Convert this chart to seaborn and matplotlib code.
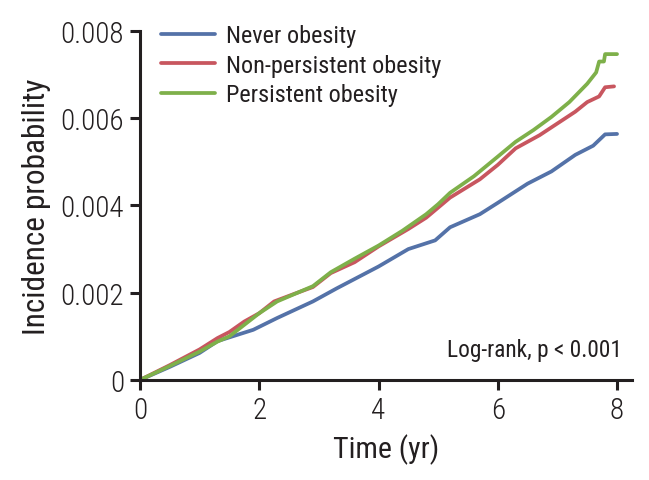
import matplotlib
matplotlib.use("Agg")
import matplotlib.pyplot as plt
from matplotlib import font_manager
import seaborn as sns
import pandas as pd

# ---- data ----
t_never = [0, 0.5, 1.0, 1.3, 1.9, 2.3, 2.9, 3.3, 4.0, 4.5, 4.95, 5.2, 5.7, 6.0, 6.5, 6.9, 7.3, 7.6, 7.8, 8.0]
p_never = [0, 0.00030, 0.00062, 0.00089, 0.00115, 0.00142, 0.00180, 0.00210, 0.00260, 0.00300, 0.00320,
           0.00350, 0.00380, 0.00406, 0.00450, 0.00478, 0.00516, 0.00537, 0.00563, 0.00564]

t_nonpers = [0, 0.5, 1.0, 1.3, 1.5, 1.75, 2.0, 2.25, 2.6, 2.9, 3.2, 3.6, 4.0, 4.5, 4.8, 5.2, 5.7, 6.0,
             6.3, 6.7, 7.0, 7.3, 7.5, 7.7, 7.8, 7.95]
p_nonpers = [0, 0.00034, 0.00070, 0.00096, 0.00110, 0.00134, 0.00153, 0.00180, 0.00198, 0.00213, 0.00245,
             0.00270, 0.00306, 0.00346, 0.00372, 0.00418, 0.00460, 0.00493, 0.00531, 0.00561, 0.00588,
             0.00615, 0.00637, 0.00650, 0.00671, 0.00673]

t_pers = [0, 0.5, 1.0, 1.3, 1.5, 2.0, 2.3, 2.9, 3.2, 3.6, 4.0, 4.4, 4.8, 5.0, 5.2, 5.6, 6.0, 6.3, 6.6,
          6.9, 7.2, 7.5, 7.65, 7.7, 7.78, 7.8, 8.0]
p_pers = [0, 0.00032, 0.00065, 0.00088, 0.00100, 0.00153, 0.00180, 0.00215, 0.00247, 0.00278, 0.00308,
          0.00342, 0.00380, 0.00403, 0.00429, 0.00467, 0.00512, 0.00546, 0.00573, 0.00603, 0.00637,
          0.00679, 0.00705, 0.00730, 0.00730, 0.00747, 0.00747]

groups = ["Never obesity", "Non-persistent obesity", "Persistent obesity"]
colors = ["#5472a8", "#c8565f", "#7eb04a"]
x_ticks = [0, 2, 4, 6, 8]
y_ticks = [0, 0.002, 0.004, 0.006, 0.008]
y_tick_labels = ["0", "0.002", "0.004", "0.006", "0.008"]
annotation = "Log-rank, p < 0.001"

df = pd.concat([
    pd.DataFrame({"Time": t_never, "Prob": p_never, "Group": groups[0]}),
    pd.DataFrame({"Time": t_nonpers, "Prob": p_nonpers, "Group": groups[1]}),
    pd.DataFrame({"Time": t_pers, "Prob": p_pers, "Group": groups[2]}),
])

sns.set_style("ticks")

# pick a condensed family if one is installed
installed = {f.name for f in font_manager.fontManager.ttflist}
condensed = sorted(n for n in installed if ("Condensed" in n or "Narrow" in n))
preferred = ["Roboto Condensed", "Liberation Sans Narrow", "Open Sans Condensed", "Noto Sans Condensed"]
family = next((n for n in preferred if n in installed), None)
if family is None and condensed:
    family = condensed[0]
narrow = family is not None
if family is None:
    family = "Roboto"
plt.rcParams["font.family"] = [family, "DejaVu Sans"]
scale = 1.0 if narrow else 0.9

ink = "#231f20"

fig = plt.figure(figsize=(6.49, 4.81), dpi=100)
ax = fig.add_axes([0.2157, 0.208, 0.758, 0.7255])

sns.lineplot(data=df, x="Time", y="Prob", hue="Group", hue_order=groups,
             palette=colors, linewidth=2.7, estimator=None, sort=False, ax=ax)

ax.set_xlim(0, 8.25)
ax.set_ylim(0, 0.008)
ax.set_xticks(x_ticks)
ax.set_xticklabels([str(v) for v in x_ticks], fontweight="light")
ax.set_yticks(y_ticks)
ax.set_yticklabels(y_tick_labels, fontweight="light")
ax.tick_params(axis="both", labelsize=21 * scale, length=7.5, width=2.2, color=ink,
               labelcolor=ink, pad=4)
for s in ["top", "right"]:
    ax.spines[s].set_visible(False)
for s in ["left", "bottom"]:
    ax.spines[s].set_linewidth(2.2)
    ax.spines[s].set_color(ink)
ax.spines["left"].set_bounds(0, 0.008)

ax.set_xlabel("Time (yr)", fontsize=21.5 * scale, color=ink, labelpad=7)
ax.set_ylabel("Incidence probability", fontsize=22.5 * scale, color=ink, labelpad=7)

leg = ax.legend(loc="upper left", bbox_to_anchor=(0.043, 1.02), frameon=False,
                borderpad=0, borderaxespad=0,
                fontsize=17.5 * scale, handlelength=2.2, handletextpad=0.45, labelspacing=0.27)
for line in leg.get_lines():
    line.set_linewidth(2.7)
for txt in leg.get_texts():
    txt.set_color(ink)

ax.text(0.98, 0.055, annotation, transform=ax.transAxes, ha="right", va="bottom",
        fontsize=16.8 * scale, color=ink)

fig.savefig("out.png", dpi=100)
